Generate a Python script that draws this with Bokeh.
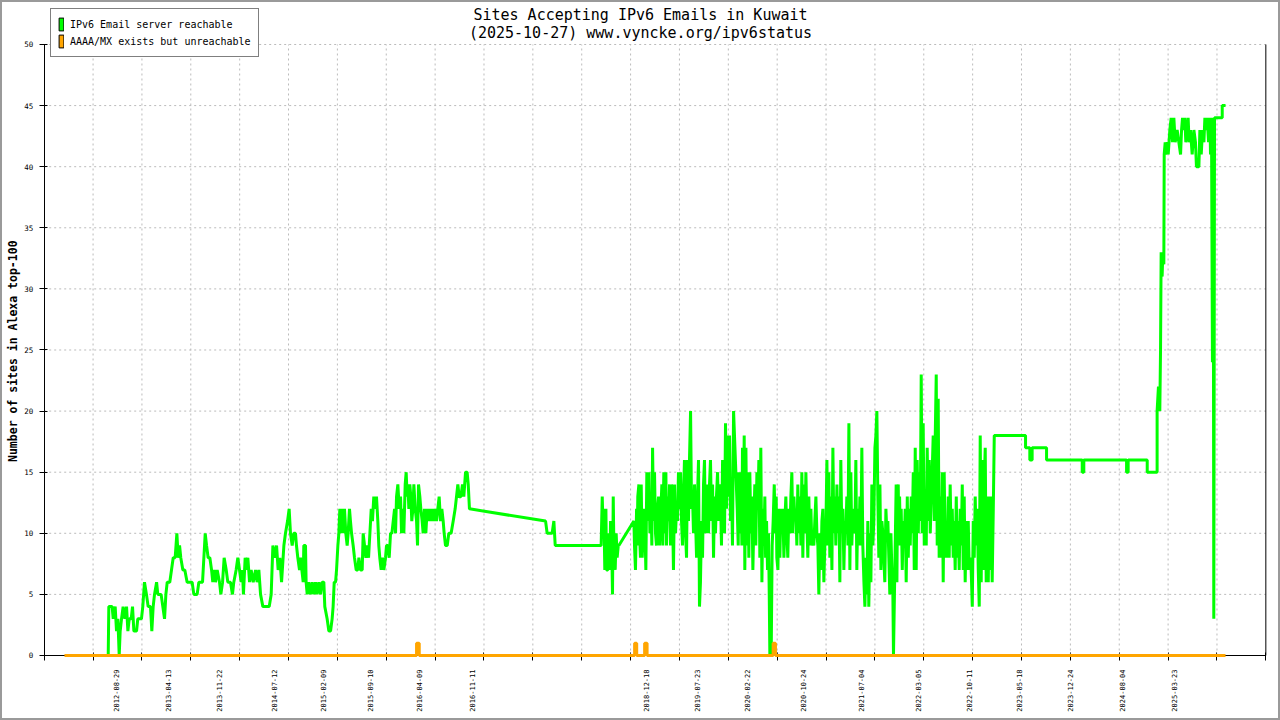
import math
from bokeh.plotting import figure
from bokeh.models import Range1d, FixedTicker, Legend, LegendItem, Label
from bokeh.embed import file_html
from bokeh.resources import INLINE

# ---------------- data ----------------
title_line1 = "Sites Accepting IPv6 Emails in Kuwait"
title_line2 = "(2025-10-27) www.vyncke.org/ipv6status"
y_axis_label = "Number of sites in Alexa top-100"
series_names = ["IPv6 Email server reachable", "AAAA/MX exists but unreachable"]

# sample axis: 1000 samples, dates shown at selected sample positions
date_labels = ["2012-08-29", "2013-04-13", "2013-11-22", "2014-07-12", "2015-02-09",
               "2015-09-10", "2016-04-09", "2016-11-11", "2018-12-18", "2019-07-23",
               "2020-02-22", "2020-10-24", "2021-07-04", "2022-03-05", "2022-10-11",
               "2023-05-18", "2023-12-24", "2024-08-04", "2025-03-23"]
date_label_index = [59, 101, 143, 188, 228, 267, 307, 350, 493, 534,
                    575, 621, 669, 715, 757, 798, 840, 882, 925]
x_tick_index = list(range(0, 1001, 40))
y_ticks = list(range(0, 51, 5))

reachable_index = [
    52.4, 52.9, 55.6, 56.5, 58.1, 59.2, 60.3, 61.4, 62.2, 63.3, 64.6, 66.0, 67.4, 68.5, 69.6,
    71.2, 72.3, 73.4, 75.6, 76.6, 79.6, 80.7, 82.1, 83.7, 85.1, 87.0, 88.1, 89.2, 90.3, 92.0,
    93.0, 95.7, 97.1, 98.5, 99.6, 100.7, 102.8, 104.2, 105.6, 107.2, 108.6, 109.7, 110.8, 111.8,
    113.5, 115.1, 117.0, 121.1, 122.5, 125.2, 126.6, 129.6, 130.7, 131.8, 132.9, 134.2, 135.6,
    137.0, 138.0, 139.1, 140.2, 141.6, 143.5, 144.6, 146.0, 147.3, 149.0, 150.3, 152.5, 154.1,
    155.2, 157.1, 158.5, 159.9, 161.2, 162.3, 163.1, 164.5, 165.6, 166.7, 168.1, 169.4, 171.1,
    173.0, 174.3, 175.7, 177.1, 179.0, 184.2, 185.8, 187.2, 188.8, 190.2, 191.5, 192.9, 194.3,
    196.2, 197.5, 199.2, 200.5, 201.6,
    203.0, 204.3, 205.7, 206.5, 207.6, 209.0, 209.8, 210.9, 212.0, 212.5, 213.9, 214.4, 215.3,
    216.6, 218.0, 219.4, 220.7, 222.1, 223.4, 224.8, 226.2, 227.5, 228.9, 229.7, 231.6, 233.0,
    234.4, 235.7, 236.5, 237.4, 238.5, 239.3, 240.4, 241.2, 242.0, 243.1, 243.9, 244.7, 245.8,
    246.9, 248.0, 248.8, 249.9, 250.7, 251.6, 252.9, 254.0, 255.4, 256.7, 257.6, 258.9, 260.3,
    261.1, 262.2, 263.3, 264.4, 265.5, 266.6, 267.7, 268.7, 269.8, 271.2, 272.0, 273.1, 273.9,
    274.7, 275.8, 276.9, 278.0, 279.4, 280.2, 281.3, 282.4, 283.5, 284.6, 285.7, 286.8, 287.6,
    288.4, 289.5, 290.6, 291.7, 292.5, 293.3, 294.4, 295.5, 296.3, 297.1, 297.7, 298.5, 299.3,
    300.1, 300.9, 301.8, 302.6, 303.7, 304.8, 305.6, 306.4, 307.5, 308.3, 309.4, 310.2, 311.3,
    312.4, 313.5, 314.6, 315.7, 316.8, 317.9, 318.9, 320.0, 321.1, 322.2, 323.3, 324.4, 325.5,
    326.6, 327.4, 328.5, 329.9, 331.2, 333.1, 334.8, 336.4, 337.5, 338.6, 339.7, 341.1, 342.4,
    343.5, 344.9, 346.2, 347.1, 348.1,
    410.4, 411.7, 415.8, 417.2, 418.3, 455.9, 456.8, 457.6, 458.1, 458.9, 459.8, 460.3, 461.4,
    462.2, 463.0, 463.6, 464.7, 465.2, 465.8, 466.3, 467.4, 468.2, 469.0, 469.9, 470.4, 482.7,
    483.2, 484.0, 484.9, 485.4, 485.9, 486.8, 487.3, 488.1, 488.7, 489.5, 490.3, 491.4, 492.5,
    493.3, 494.1, 495.0, 495.8, 496.6, 497.4, 498.0, 498.8, 499.6, 500.4, 501.2, 502.1, 502.9,
    503.7, 504.5, 505.6, 506.4, 507.2, 508.1, 508.9, 509.4, 510.2, 511.1, 511.9, 512.7, 513.5,
    514.3, 515.1, 516.0, 516.8, 517.6, 518.4, 519.2, 520.1, 520.9, 521.7, 522.5, 523.3, 524.1,
    525.0, 525.8, 526.6, 527.4, 528.2, 529.1, 529.9, 530.7, 531.5, 532.3, 533.2, 534.0, 534.8,
    535.6, 536.4, 537.2, 538.1, 538.9, 539.7, 540.5, 541.3, 542.2, 543.0, 543.8, 544.6, 545.4,
    546.3, 547.1, 547.9, 548.7, 549.5, 550.3, 551.2, 552.0, 552.8, 553.6, 554.4, 555.3, 556.1,
    556.9, 557.7, 558.5, 559.4, 560.2, 561.0, 561.8, 562.6, 563.4, 564.3,
    567.3, 568.1, 568.6, 569.4, 570.3, 571.1, 571.6, 572.4, 573.0, 573.5, 574.4, 575.2, 576.0,
    576.8, 577.6, 578.5, 579.3, 580.1, 580.9, 581.7, 582.5, 583.4, 584.2, 585.0, 585.8, 586.6,
    587.5, 588.3, 589.1, 589.9, 590.5, 591.3, 592.1, 592.9, 593.5, 594.0, 594.6, 595.1, 595.9,
    596.7, 597.6, 598.4, 599.2, 599.7, 600.6, 601.4, 602.2, 603.0, 603.8, 604.6, 605.5, 606.3,
    607.1, 607.9, 608.7, 609.6, 610.4, 611.2, 612.0, 612.8, 613.7, 614.5, 615.3, 616.1, 616.9,
    617.7, 618.6, 619.4, 620.2, 621.0, 621.8, 622.7, 623.5, 624.3, 625.1, 625.9, 626.8, 627.6,
    628.4, 629.2, 630.0, 630.8, 631.7, 632.5, 633.3, 634.1, 634.9, 635.8, 636.6, 637.4, 638.2,
    639.0, 639.8, 640.7, 641.5, 642.3, 643.1, 643.9, 644.8, 645.6, 646.4, 647.2, 648.0, 648.9,
    649.7, 650.5, 651.3, 652.1, 652.9, 653.8, 654.6, 655.4, 656.2, 657.0, 657.9, 658.7, 659.5,
    660.3, 661.1, 662.0, 662.8, 663.6, 664.4, 665.2, 666.0, 666.9, 667.7, 668.5, 669.3, 670.1,
    671.0, 671.8, 672.6, 673.4, 674.2, 675.0, 675.9, 676.7, 677.5, 678.3, 679.1, 680.0, 680.8,
    681.6, 682.4, 683.2, 684.1, 684.9, 685.7, 686.5, 687.3, 688.1, 689.0, 689.8, 690.6, 691.4,
    692.2, 693.1, 693.9, 694.7, 695.2,
    697.4, 698.0, 698.5, 699.1, 699.6, 700.2, 700.7, 701.5, 702.4, 703.2, 704.0, 704.8, 705.6,
    706.5, 707.3, 708.1, 708.9, 709.7, 710.5, 711.4, 712.2, 713.0, 713.8, 714.6, 715.5, 716.3,
    717.1, 717.9, 718.7, 719.5, 720.4, 721.2, 722.0, 722.8, 723.6, 724.5, 725.3, 726.1, 726.9,
    727.7, 728.6, 729.4, 730.2, 731.0, 731.8, 732.6, 733.5, 734.3, 735.1, 735.9, 736.7, 737.6,
    738.4, 739.2, 740.0, 740.8, 741.6, 742.5, 743.3, 744.1, 744.9, 745.7, 746.6, 747.4, 748.2,
    749.0, 749.8, 750.7, 751.5, 752.3, 753.1, 753.9, 754.7, 755.6, 756.4, 757.2, 758.0, 758.8,
    759.7, 760.5, 761.3, 762.1, 762.9, 763.8, 764.6, 765.4, 766.2, 767.0, 767.8, 768.7, 769.5,
    770.3, 771.1, 771.9, 772.8, 773.6, 774.4, 775.2, 776.0, 776.9, 777.7,
    803.3, 803.3, 806.8, 806.8, 808.7, 808.7, 820.5, 820.5, 849.7, 849.7, 851.0, 851.0, 886.0,
    886.0, 887.3, 887.3, 902.9, 902.9, 911.0, 911.0, 912.1, 913.2, 913.8, 914.3, 915.1, 915.7,
    916.5, 916.8, 917.6, 918.1, 919.2, 920.1, 921.4, 922.5, 923.6, 924.7, 925.8, 927.4, 928.8,
    930.2, 931.0, 931.8, 932.9, 933.7, 934.5, 935.6, 936.4, 937.2, 938.3, 939.7, 941.1, 942.4,
    943.2, 945.2, 946.0, 947.1, 948.2, 949.3, 950.1, 951.2, 952.0, 953.1, 954.2, 954.7, 955.5,
    956.3, 956.9, 957.4, 958.0, 964.3, 964.3, 967.0]
reachable_count = [
    0, 4, 4, 3, 4, 2, 3, 0, 2, 3, 4, 3, 4, 2, 3,
    3, 4, 2, 2, 3, 3, 4, 6, 5, 4, 4, 2, 4, 5, 6,
    5, 5, 4, 3, 5, 6, 6, 7, 8, 8, 10, 8, 9, 8,
    7, 7, 6, 6, 5, 5, 6, 6, 8, 10, 9, 8, 8,
    7, 6, 7, 6, 7, 6, 5, 6, 8, 7, 6, 6, 5,
    6, 7, 8, 7, 6, 7, 5, 8, 7, 8, 6, 7, 6,
    7, 6, 7, 5, 4, 4, 5, 9, 8, 9, 7, 8, 6,
    9, 10, 11, 12, 10,
    9, 10, 10, 9, 8, 7, 8, 7, 6, 9, 9, 6, 5,
    6, 5, 6, 5, 6, 5, 6, 5, 6, 6, 4, 3, 2,
    2, 3, 4, 6, 6, 7, 9, 10, 12, 10, 12, 10, 12,
    10, 9, 10, 12, 11, 10, 9, 8, 7, 7, 8, 7, 7,
    10, 9, 8, 9, 8, 10, 12, 11, 13, 12, 13, 11, 9,
    8, 7, 8, 7, 8, 9, 9, 8, 10, 10, 11, 12, 10,
    13, 14, 12, 13, 10, 12, 10, 14, 15, 13, 14, 12, 14,
    13, 11, 12, 14, 12, 11, 9, 14, 13, 12, 11, 10, 12,
    10, 12, 11, 12, 11, 12, 11, 12, 11, 12, 13, 11, 12,
    11, 10, 9, 9, 10, 10, 11, 12, 13, 14, 13, 13, 14,
    13, 15, 15, 14, 12,
    11, 10, 10, 11, 9, 9, 13, 10, 12, 7, 12, 7, 7,
    10, 7, 11, 8, 5, 13, 9, 7, 10, 8, 9, 9, 11,
    9, 7, 12, 9, 13, 14, 10, 8, 14, 8, 10, 12, 7,
    15, 11, 15, 10, 13, 9, 17, 11, 15, 10, 9, 12, 13,
    9, 11, 14, 9, 15, 10, 15, 9, 13, 11, 14, 9, 14,
    12, 7, 14, 10, 12, 11, 15, 12, 15, 11, 9, 13, 16,
    10, 8, 16, 11, 16, 20, 12, 13, 10, 14, 11, 8, 13,
    16, 4, 6, 11, 8, 14, 16, 10, 14, 12, 10, 14, 16,
    11, 14, 8, 13, 10, 13, 15, 11, 14, 13, 9, 16, 15,
    10, 19, 12, 18, 13, 18, 11, 14, 9, 20,
    12, 9, 15, 10, 15, 9, 17, 11, 18, 7, 17, 9, 15,
    8, 15, 10, 13, 7, 11, 14, 9, 15, 12, 16, 8, 17,
    6, 12, 9, 13, 8, 11, 7, 10, 5, 0, 6, 0, 9,
    11, 14, 10, 13, 8, 7, 12, 8, 12, 10, 12, 8, 11,
    13, 10, 8, 12, 10, 13, 15, 10, 13, 11, 12, 9, 14,
    10, 13, 9, 15, 8, 14, 10, 15, 11, 8, 13, 9, 12,
    9, 10, 9, 11, 13, 10, 9, 5, 10, 7, 11, 12, 6,
    9, 10, 16, 9, 15, 8, 13, 7, 17, 10, 13, 9, 14,
    10, 13, 6, 16, 10, 12, 7, 11, 10, 13, 9, 19, 7,
    15, 9, 12, 11, 10, 16, 7, 12, 9, 13, 9, 17, 9,
    6, 4, 8, 5, 11, 4, 10, 6, 14, 9, 11, 17, 18,
    20, 13, 8, 14, 7, 11, 10, 8, 6, 12, 10, 11, 8,
    5, 10, 7, 5, 0,
    14, 6, 13, 14, 9, 13, 10, 12, 7, 11, 9, 12, 6,
    13, 8, 12, 9, 13, 10, 15, 7, 17, 7, 16, 10, 15,
    11, 23, 10, 19, 9, 13, 9, 17, 11, 16, 10, 13, 15,
    18, 11, 18, 23, 9, 21, 8, 13, 8, 15, 6, 15, 8,
    11, 8, 13, 8, 14, 9, 12, 8, 11, 7, 13, 8, 11,
    7, 12, 9, 14, 7, 13, 6, 11, 7, 11, 7, 8, 7,
    4, 11, 8, 13, 9, 12, 7, 4, 18, 6, 16, 7, 14,
    17, 6, 13, 6, 13, 7, 13, 6, 12, 18,
    18, 17, 17, 16, 16, 17, 17, 16, 16, 15, 15, 16, 16,
    15, 15, 16, 16, 15, 15, 20, 22, 20, 25, 33, 31, 33,
    32, 41, 42, 41, 42, 41, 43, 44, 42, 44, 42, 43, 42,
    41, 43, 44, 43, 44, 42, 43, 44, 42, 43, 41, 43, 42,
    40, 40, 43, 41, 43, 42, 44, 43, 44, 42, 44, 41, 44,
    24, 44, 3, 44, 44, 45, 45]

unreachable_index = [16.6, 304.8, 304.8, 307.0, 307.0, 483.3, 483.3, 485.0, 485.0,
                     491.5, 491.5, 493.5, 493.5, 596.7, 596.7, 598.6, 598.6, 967.0]
unreachable_count = [0, 0, 1, 1, 0, 0, 1, 1, 0, 0, 1, 1, 0, 0, 1, 1, 0, 0]

green = "#00ff00"
orange = "#ffa500"
mono = "DejaVu Sans Mono"
nan = float("nan")

# ---------------- figure ----------------
# The plot frame covers the whole canvas; both axes are pinned at 0 so that the
# legend and titles (which sit above the value range) are never clipped.
p = figure(width=1280, height=720, title=None,
           x_range=Range1d(-35.77, 1012.0), y_range=Range1d(-5.32, 53.6),
           output_backend="svg", toolbar_location=None,
           min_border_left=0, min_border_right=0, min_border_top=0, min_border_bottom=0)
p.outline_line_color = "#9a9a9a"
p.outline_line_width = 3
p.background_fill_color = "white"
p.border_fill_color = "white"
p.xgrid.visible = False
p.ygrid.visible = False

# grid lines, bounded to the value area
grid_x = x_tick_index[1:-1]
p.segment(x0=grid_x, y0=[y_ticks[0]] * len(grid_x), x1=grid_x, y1=[y_ticks[-1]] * len(grid_x),
          line_color="#bbbbbb", line_dash="2 3", line_width=1)
grid_y = y_ticks[1:]
p.segment(x0=[x_tick_index[0]] * len(grid_y), y0=grid_y, x1=[x_tick_index[-1]] * len(grid_y),
          y1=grid_y, line_color="#bbbbbb", line_dash="2 3", line_width=1)
# right border of the plot area
p.segment(x0=[x_tick_index[-1]], y0=[y_ticks[0]], x1=[x_tick_index[-1]], y1=[y_ticks[-1]],
          line_color="black", line_width=1)

# x axis
xa = p.xaxis[0]
xa.fixed_location = 0
xa.bounds = (x_tick_index[0], x_tick_index[-1])
xa.level = "underlay"
xa.ticker = FixedTicker(ticks=date_label_index, minor_ticks=x_tick_index)
xa.major_label_overrides = {i: d for i, d in zip(date_label_index, date_labels)}
xa.major_label_orientation = math.pi / 2
xa.major_label_text_font = mono
xa.major_label_text_font_size = "7px"
xa.major_label_text_color = "black"
xa.major_label_standoff = 9
xa.major_tick_in = 0
xa.major_tick_out = 0
xa.minor_tick_in = 3
xa.minor_tick_out = 5
xa.minor_tick_line_color = "black"
xa.axis_line_color = "black"
xa.axis_label = None

# y axis
ya = p.yaxis[0]
ya.fixed_location = 0
ya.bounds = (y_ticks[0], y_ticks[-1])
ya.ticker = FixedTicker(ticks=y_ticks)
ya.major_tick_in = 3
ya.major_tick_out = 5
ya.minor_tick_line_color = None
ya.major_label_text_font = mono
ya.major_label_text_font_size = "7.5px"
ya.major_label_text_color = "black"
ya.major_label_standoff = 6
ya.axis_label = None

# series
p.line(reachable_index, reachable_count, line_color=green, line_width=3,
       line_join="bevel", line_cap="butt")
p.line(unreachable_index, unreachable_count, line_color=orange, line_width=3,
       line_join="bevel", line_cap="butt")

# value-axis title
p.add_layout(Label(x=-25.9, y=24.9, text=y_axis_label, angle=math.pi / 2,
                   text_align="center", text_baseline="middle",
                   text_font=mono, text_font_size="11.5px", text_font_style="bold",
                   text_color="black"))

# title (two lines, centred on the page)
p.add_layout(Label(x=488.1, y=52.45, text=title_line1, text_align="center", text_baseline="middle",
                   text_font=mono, text_font_size="15px", text_color="black"))
p.add_layout(Label(x=488.1, y=50.98, text=title_line2, text_align="center", text_baseline="middle",
                   text_font=mono, text_font_size="15px", text_color="black",
                   background_fill_color="white", background_fill_alpha=1))

# legend swatches (renderers without visible marks)
sw_g = p.quad(left=[nan], right=[nan], top=[nan], bottom=[nan], fill_color=green, line_color="black")
sw_o = p.quad(left=[nan], right=[nan], top=[nan], bottom=[nan], fill_color=orange, line_color="black")
legend = Legend(items=[LegendItem(label=series_names[0], renderers=[sw_g]),
                       LegendItem(label=series_names[1], renderers=[sw_o])],
                location=(50, 663), glyph_width=6, glyph_height=16, spacing=1,
                padding=7, label_standoff=6, margin=0,
                label_text_font=mono, label_text_font_size="10px",
                label_text_color="black",
                border_line_color="black", border_line_width=1,
                background_fill_color="white", background_fill_alpha=1)
p.add_layout(legend)

open("out.html", "w").write(file_html(p, INLINE))
